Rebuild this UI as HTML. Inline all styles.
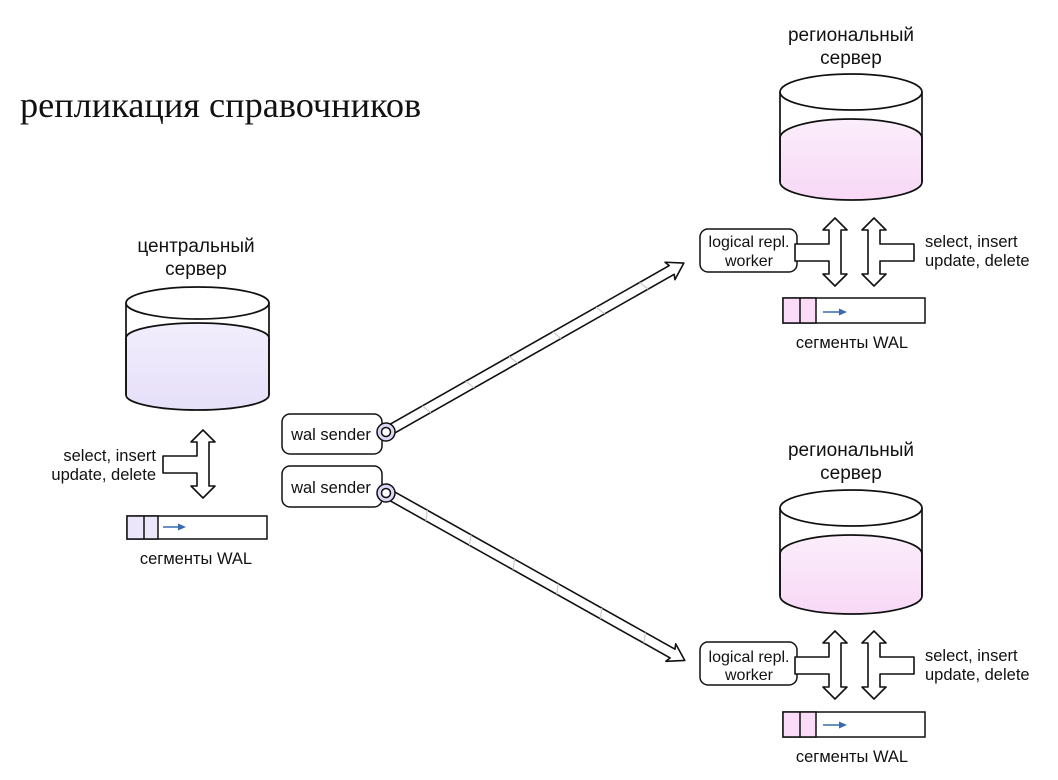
<!DOCTYPE html>
<html><head><meta charset="utf-8"><style>
html,body{margin:0;padding:0;background:#fff}
svg{display:block}
text{font-family:"Liberation Sans",sans-serif;fill:#111}
</style></head><body>
<svg width="1058" height="780" viewBox="0 0 1058 780" xmlns="http://www.w3.org/2000/svg">
<defs>
<linearGradient id="lav" x1="0" y1="0" x2="0" y2="1"><stop offset="0" stop-color="#f2eefd"/><stop offset="1" stop-color="#e6dff9"/></linearGradient>
<linearGradient id="pink" x1="0" y1="0" x2="0" y2="1"><stop offset="0" stop-color="#fbeefb"/><stop offset="1" stop-color="#f8d8f6"/></linearGradient>
<g id="fork">
<path d="M0,-34 L12,-22 L6,-22 L6,22 L12,22 L0,34 L-12,22 L-6,22 L-6,9 L-40,9 L-40,-8 L-6,-8 L-6,-22 L-12,-22 Z" fill="#fff" stroke="#111" stroke-width="1.6" stroke-linejoin="round"/>
</g>
<g id="larrow">
<path d="M0,-5 L324,-5 L322,-10 L338,0 L322,10 L324,5 L0,5 Z" fill="#fff" stroke="#111" stroke-width="1.6" stroke-linejoin="round"/>
<g stroke="#ccc" stroke-width="1.2">
<line x1="40" y1="-5" x2="44" y2="5"/><line x1="90" y1="-5" x2="94" y2="5"/><line x1="140" y1="-5" x2="144" y2="5"/><line x1="190" y1="-5" x2="194" y2="5"/><line x1="240" y1="-5" x2="244" y2="5"/><line x1="290" y1="-5" x2="294" y2="5"/>
</g>
</g>
</defs>

<text x="20" y="117" style="font-family:'Liberation Serif',serif;font-size:36.3px">репликация справочников</text>

<!-- central -->
<text x="196" y="252" font-size="19" text-anchor="middle">центральный</text>
<text x="196" y="275" font-size="19" text-anchor="middle">сервер</text>
<path d="M126,338 A71.5,15 0 0 1 269,338 L269,395 A71.5,15 0 0 1 126,395 Z" fill="url(#lav)" stroke="#111" stroke-width="1.7"/>
<ellipse cx="197.5" cy="303" rx="71.5" ry="16" fill="none" stroke="#111" stroke-width="1.7"/>
<line x1="126" y1="303" x2="126" y2="395" stroke="#111" stroke-width="1.7"/>
<line x1="269" y1="303" x2="269" y2="395" stroke="#111" stroke-width="1.7"/>

<use href="#fork" transform="translate(203,464)"/>
<text x="156" y="461" font-size="16.5" text-anchor="end">select, insert</text>
<text x="156" y="480" font-size="16.5" text-anchor="end">update, delete</text>

<rect x="127" y="516" width="140" height="23" fill="#fff" stroke="#111" stroke-width="1.5"/>
<rect x="127" y="516" width="31" height="23" fill="#ece6fb" stroke="#111" stroke-width="1.5"/>
<line x1="144" y1="516" x2="144" y2="539" stroke="#111" stroke-width="1.5"/>
<line x1="163" y1="527" x2="180" y2="527" stroke="#3a6bb0" stroke-width="1.6"/><path d="M186,527 L178,523.5 L178,530.5 Z" fill="#3a6bb0"/>
<text x="196" y="564" font-size="16.5" text-anchor="middle">сегменты WAL</text>

<!-- wal senders -->
<rect x="282" y="414" width="100" height="40" rx="8" fill="#fff" stroke="#111" stroke-width="1.5"/>
<text x="331" y="440" font-size="16.5" text-anchor="middle">wal sender</text>
<rect x="282" y="466" width="100" height="41" rx="8" fill="#fff" stroke="#111" stroke-width="1.5"/>
<text x="331" y="493" font-size="16.5" text-anchor="middle">wal sender</text>

<use href="#larrow" transform="translate(390,430) rotate(-29.6)"/>
<use href="#larrow" transform="translate(390,495) rotate(29.3)"/>

<circle cx="386" cy="432" r="9" fill="#ded6f6" stroke="#111" stroke-width="1.5"/>
<circle cx="386" cy="432" r="4.5" fill="#fff" stroke="#111" stroke-width="1.5"/>
<circle cx="386" cy="493" r="9" fill="#ded6f6" stroke="#111" stroke-width="1.5"/>
<circle cx="386" cy="493" r="4.5" fill="#fff" stroke="#111" stroke-width="1.5"/>

<!-- regional top -->
<g>
<text x="851" y="41" font-size="19" text-anchor="middle">региональный</text>
<text x="851" y="64" font-size="19" text-anchor="middle">сервер</text>
<path d="M780,138 A71,19 0 0 1 922,138 L922,182 A71,18 0 0 1 780,182 Z" fill="url(#pink)" stroke="#111" stroke-width="1.7"/>
<ellipse cx="851" cy="92" rx="71" ry="18" fill="none" stroke="#111" stroke-width="1.7"/>
<line x1="780" y1="92" x2="780" y2="182" stroke="#111" stroke-width="1.7"/>
<line x1="922" y1="92" x2="922" y2="182" stroke="#111" stroke-width="1.7"/>
<rect x="700" y="229" width="97" height="43" rx="8" fill="#fff" stroke="#111" stroke-width="1.5"/>
<text x="749" y="247" font-size="16" text-anchor="middle">logical repl.</text>
<text x="749" y="266" font-size="16" text-anchor="middle">worker</text>
<use href="#fork" transform="translate(835,252)"/>
<use href="#fork" transform="translate(874,252) scale(-1,1)"/>
<text x="925" y="247" font-size="16.5">select, insert</text>
<text x="925" y="266" font-size="16.5">update, delete</text>
<rect x="783" y="298" width="142" height="25" fill="#fff" stroke="#111" stroke-width="1.5"/>
<rect x="783" y="298" width="33" height="25" fill="#fadcf8" stroke="#111" stroke-width="1.5"/>
<line x1="800" y1="298" x2="800" y2="323" stroke="#111" stroke-width="1.5"/>
<line x1="823" y1="312" x2="840" y2="312" stroke="#3a6bb0" stroke-width="1.6"/><path d="M847,312 L839,308.5 L839,315.5 Z" fill="#3a6bb0"/>
<text x="852" y="348" font-size="16.5" text-anchor="middle">сегменты WAL</text>
</g>

<!-- regional bottom -->
<g transform="translate(0,414)">
<text x="851" y="42" font-size="19" text-anchor="middle">региональный</text>
<text x="851" y="65" font-size="19" text-anchor="middle">сервер</text>
<path d="M780,140 A71,19 0 0 1 922,140 L922,182 A71,18 0 0 1 780,182 Z" fill="url(#pink)" stroke="#111" stroke-width="1.7"/>
<ellipse cx="851" cy="94" rx="71" ry="18" fill="none" stroke="#111" stroke-width="1.7"/>
<line x1="780" y1="94" x2="780" y2="182" stroke="#111" stroke-width="1.7"/>
<line x1="922" y1="94" x2="922" y2="182" stroke="#111" stroke-width="1.7"/>
<rect x="700" y="228" width="97" height="43" rx="8" fill="#fff" stroke="#111" stroke-width="1.5"/>
<text x="749" y="248" font-size="16" text-anchor="middle">logical repl.</text>
<text x="749" y="266" font-size="16" text-anchor="middle">worker</text>
<use href="#fork" transform="translate(835,251)"/>
<use href="#fork" transform="translate(874,251) scale(-1,1)"/>
<text x="925" y="247" font-size="16.5">select, insert</text>
<text x="925" y="266" font-size="16.5">update, delete</text>
<rect x="783" y="298" width="142" height="25" fill="#fff" stroke="#111" stroke-width="1.5"/>
<rect x="783" y="298" width="33" height="25" fill="#fadcf8" stroke="#111" stroke-width="1.5"/>
<line x1="800" y1="298" x2="800" y2="323" stroke="#111" stroke-width="1.5"/>
<line x1="823" y1="311" x2="840" y2="311" stroke="#3a6bb0" stroke-width="1.6"/><path d="M847,311 L839,307.5 L839,314.5 Z" fill="#3a6bb0"/>
<text x="852" y="348" font-size="16.5" text-anchor="middle">сегменты WAL</text>
</g>
</svg>
</body></html>
